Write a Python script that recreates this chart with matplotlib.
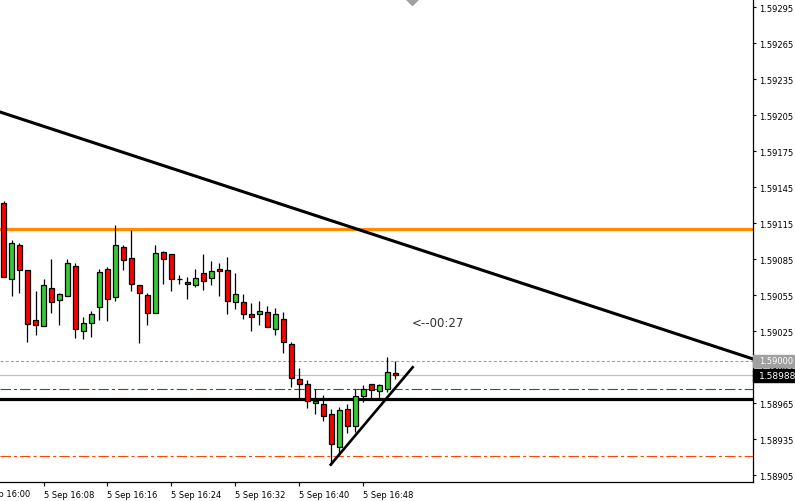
import numpy as np
import matplotlib
matplotlib.use("Agg")
import matplotlib.pyplot as plt
from matplotlib.patches import Rectangle
import matplotlib.transforms as mtransforms

plt.rcParams['font.family'] = ['DejaVu Sans']
plt.rcParams['lines.scale_dashes'] = False

# minute bars, 5 Sep 16:03 .. 16:52 (minutes after 16:00)
minutes = np.arange(3, 53)
opens = [1.59132, 1.59068, 1.59097, 1.59076, 1.59034, 1.59029, 1.59061, 1.59051, 1.59054, 1.59079,
         1.59025, 1.59032, 1.59045, 1.59077, 1.59053, 1.59095, 1.59086, 1.59063, 1.59055, 1.59040,
         1.59091, 1.59089, 1.59068, 1.59066, 1.59063, 1.59073, 1.59069, 1.59077, 1.59076, 1.59049,
         1.59049, 1.59039, 1.59039, 1.59041, 1.59027, 1.59035, 1.59014, 1.58985, 1.58981, 1.58965,
         1.58964, 1.58956, 1.58928, 1.58960, 1.58946, 1.58971, 1.58981, 1.58975, 1.58977, 1.58990]
highs = [1.59133, 1.59101, 1.59098, 1.59076, 1.59058, 1.59068, 1.59085, 1.59057, 1.59085, 1.59082,
         1.59037, 1.59042, 1.59077, 1.59078, 1.59113, 1.59097, 1.59109, 1.59063, 1.59057, 1.59097,
         1.59092, 1.59089, 1.59072, 1.59070, 1.59077, 1.59089, 1.59083, 1.59082, 1.59087, 1.59073,
         1.59056, 1.59048, 1.59050, 1.59046, 1.59044, 1.59041, 1.59016, 1.58994, 1.58984, 1.58977,
         1.58972, 1.58960, 1.58962, 1.58964, 1.58977, 1.58980, 1.58981, 1.58981, 1.59003, 1.59000]
lows = [1.59070, 1.59054, 1.59057, 1.59016, 1.59022, 1.59029, 1.59040, 1.59030, 1.59054, 1.59019,
        1.59018, 1.59020, 1.59034, 1.59033, 1.59050, 1.59076, 1.59058, 1.59015, 1.59030, 1.59040,
        1.59064, 1.59058, 1.59064, 1.59052, 1.59062, 1.59059, 1.59063, 1.59054, 1.59039, 1.59043,
        1.59035, 1.59025, 1.59030, 1.59028, 1.59022, 1.59007, 1.58978, 1.58968, 1.58961, 1.58956,
        1.58950, 1.58913, 1.58922, 1.58940, 1.58941, 1.58966, 1.58969, 1.58969, 1.58974, 1.58985]
closes = [1.59070, 1.59098, 1.59076, 1.59031, 1.59030, 1.59063, 1.59049, 1.59056, 1.59082, 1.59027,
          1.59032, 1.59039, 1.59074, 1.59052, 1.59097, 1.59084, 1.59064, 1.59057, 1.59040, 1.59090,
          1.59085, 1.59068, 1.59068, 1.59064, 1.59069, 1.59067, 1.59075, 1.59075, 1.59050, 1.59056,
          1.59039, 1.59037, 1.59042, 1.59028, 1.59039, 1.59016, 1.58986, 1.58981, 1.58967, 1.58967,
          1.58954, 1.58931, 1.58959, 1.58946, 1.58971, 1.58977, 1.58976, 1.58980, 1.58991, 1.58988]

# chart objects
level_orange = 1.59110
level_black = 1.58968
level_round = 1.59000
bid = 1.58988
level_green = 1.58977
level_red = 1.58921
trend_down_t = [2.5625, 96.6875]
trend_down_p = [1.592075, 1.590017]
trend_up_t = [43.9, 54.15]
trend_up_p = [1.589136, 1.589948]
timer_text = "<--00:27"

price_ticks = 1.58905 + 0.0003 * np.arange(14)
time_ticks = [0, 8, 16, 24, 32, 40, 48]
time_labels = ["5 Sep 16:%02d" % t for t in time_ticks]

fig = plt.figure(figsize=(7.95, 5.02), dpi=100)
ax = fig.add_axes([0, 19 / 502, 753 / 795, 483 / 502])
ax.set_xlim(2.5625, 96.6875)
ax.set_ylim(1.5889917, 1.5930167)

# candles
o = np.array(opens)
c = np.array(closes)
up = c >= o
ax.vlines(minutes, lows, highs, color='black', lw=0.9, zorder=3)
ax.bar(minutes, np.abs(c - o), bottom=np.minimum(o, c), width=0.65,
       color=np.where(up, '#32CD32', '#FF0000'), edgecolor='black', lw=0.9, zorder=4)

# levels
ax.axhline(level_orange, color='#FF8C00', lw=2.3, zorder=2)
ax.axhline(level_black, color='black', lw=2.3, zorder=2)
ax.axhline(level_round, color='#A0A0A0', lw=0.8, ls=(0, (2.2, 1.5)), zorder=1)
ax.axhline(bid, color='#C0C0C0', lw=0.9, zorder=1)
ax.axhline(level_green, color='#008000', lw=0.8, ls=(0, (7.5, 2.2, 2.2, 2.2)), zorder=1)
ax.axhline(level_red, color='#FF4500', lw=0.8, ls=(0, (7.5, 2.2, 2.2, 2.2)), zorder=1)

ax.plot(trend_down_t, trend_down_p, color='black', lw=2.2, zorder=5)
ax.plot(trend_up_t, trend_up_p, color='black', lw=1.9, zorder=5)

ax.text(54.06, 1.59032, timer_text, fontsize=8.5, color='#303030', va='center', ha='left')

# shift marker at the top
ax.plot([54.06], [1.5930167], marker='D', ms=6, color='#A0A0A0', mec='#A0A0A0', clip_on=True)

# axes styling
for s in ['left', 'top']:
    ax.spines[s].set_visible(False)
ax.spines['right'].set_linewidth(0.9)
ax.spines['bottom'].set_linewidth(0.9)
ax.yaxis.tick_right()
ax.set_yticks(price_ticks)
ax.set_yticklabels(["%.5f" % p for p in price_ticks])
ax.tick_params(axis='y', direction='out', length=2.5, width=0.8, labelsize=6, pad=2)
ax.set_xticks(time_ticks[1:])
ax.set_xticklabels(time_labels[1:], ha='left')
ax.tick_params(axis='x', direction='out', length=3, width=0.8, labelsize=6, pad=3)
trans = mtransforms.blended_transform_factory(ax.transData, ax.transAxes)
ax.text(time_ticks[0], -0.0155, time_labels[0], transform=trans, fontsize=6,
        ha='left', va='top', clip_on=False)

# price boxes on the right scale
fig.patches.append(Rectangle((753 / 795, 1 - 368 / 502), 42 / 795, 12 / 502,
                             transform=fig.transFigure, color='#A0A0A0', zorder=5))
fig.text(759 / 795, 1 - 362 / 502, "%.5f" % level_round, color='white', fontsize=6,
         va='center', ha='left', zorder=6)
fig.patches.append(Rectangle((753 / 795, 1 - 383 / 502), 42 / 795, 13 / 502,
                             transform=fig.transFigure, color='black', zorder=7))
fig.text(759 / 795, 1 - 376.5 / 502, "%.5f" % bid, color='white', fontsize=6.5,
         va='center', ha='left', zorder=8)

fig.savefig("out.png", dpi=100)
